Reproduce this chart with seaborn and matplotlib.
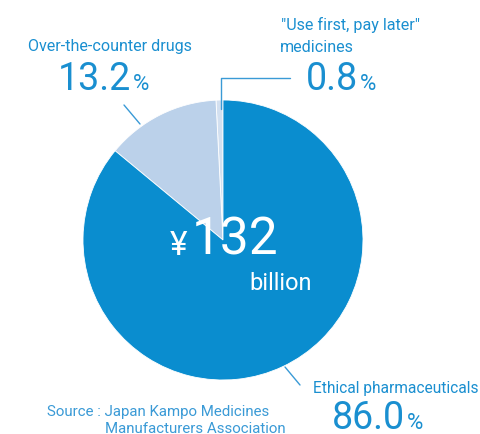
import matplotlib
matplotlib.use("Agg")
import matplotlib.pyplot as plt
import seaborn as sns

categories = ['"Use first, pay later"\nmedicines', "Over-the-counter drugs", "Ethical pharmaceuticals"]
shares = [0.8, 13.2, 86.0]
slice_colors = ["#d3e0f0", "#bbd1ea", "#0a8dcf"]
total_label = "132"
source_lines = ["Source : Japan Kampo Medicines", "Manufacturers Association"]

sns.set_theme(style="white")
plt.rcParams["font.family"] = ["Roboto", "DejaVu Sans"]

W, H = 481, 435
fig = plt.figure(figsize=(W / 100, H / 100), dpi=100)
ax = fig.add_axes([0, 0, 1, 1])

def Y(p):
    return H - p

ax.pie(shares, colors=slice_colors, startangle=90, counterclock=True,
       center=(223, Y(241)), radius=140,
       wedgeprops=dict(linewidth=0.6, edgecolor="white"))
ax.set_xlim(0, W)
ax.set_ylim(0, H)
ax.set_aspect("auto")
ax.axis("off")

tc = "#1a8fd0"
lc = "#3a9ad6"

# leader lines
ax.plot([221, 221, 290], [Y(110), Y(79), Y(79)], color=lc, lw=1)
ax.plot([124, 140], [Y(106), Y(125)], color=lc, lw=1)
ax.plot([285, 300], [Y(368), Y(386)], color=lc, lw=1)

def pct(v):
    return f"{v:.1f}"

fig.canvas.draw()
renderer = fig.canvas.get_renderer()

def number_with_pct(x, yb, value):
    t = ax.text(x, Y(yb), pct(value), color=tc, fontsize=27, va="baseline", ha="left")
    bb = t.get_window_extent(renderer=renderer)
    ax.text(bb.x1 + 2, Y(yb), "%", color=tc, fontsize=16, va="baseline", ha="left")

# labels
ax.text(281, Y(30), categories[0].split("\n")[0], color=tc, fontsize=11.6, va="baseline", ha="left")
ax.text(280, Y(52), categories[0].split("\n")[1], color=tc, fontsize=11.6, va="baseline", ha="left")
number_with_pct(306, 90, shares[0])

ax.text(28, Y(51), categories[1], color=tc, fontsize=11.6, va="baseline", ha="left")
number_with_pct(58, 90, shares[1])

ax.text(313, Y(393), categories[2], color=tc, fontsize=11.2, va="baseline", ha="left")
number_with_pct(332, 429, shares[2])

# center total
ax.text(170, Y(255), "¥", color="white", fontsize=24, va="baseline", ha="left")
ax.text(192, Y(255), total_label, color="white", fontsize=37, va="baseline", ha="left")
ax.text(249, Y(290), "billion", color="white", fontsize=17, va="baseline", ha="left")

# source
ax.text(47, Y(416), source_lines[0], color=lc, fontsize=10.8, va="baseline", ha="left")
ax.text(105, Y(433), source_lines[1], color=lc, fontsize=10.8, va="baseline", ha="left")

fig.savefig("out.png", dpi=100, facecolor="white")
